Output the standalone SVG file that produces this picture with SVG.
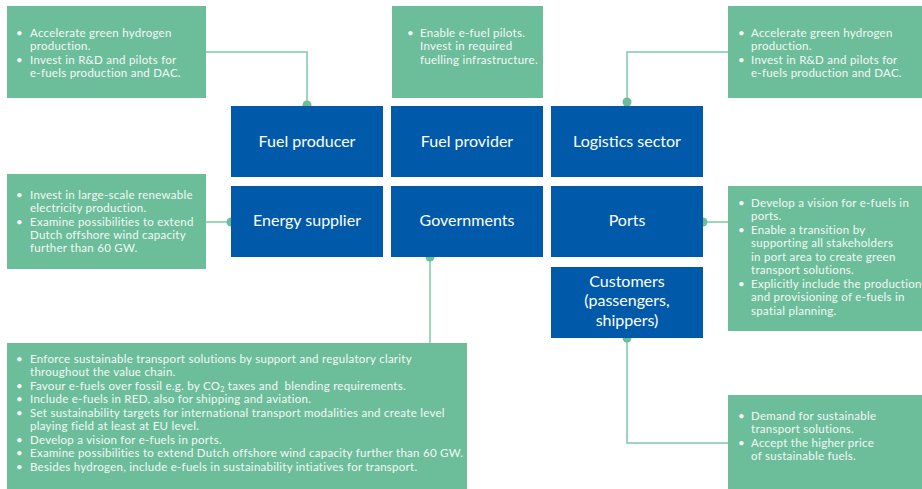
<svg xmlns="http://www.w3.org/2000/svg" width="922" height="489" viewBox="0 0 922 489">
<style>
.g{fill:#6cbe9a}
.b{fill:#005aa9}
.t{font-family:Lato,"Open Sans","Liberation Sans",sans-serif;font-size:11.5px;letter-spacing:0.27px;fill:#f4f8f6}
.l{font-family:Lato,"Open Sans","Liberation Sans",sans-serif;font-size:16px;fill:#ffffff;text-anchor:middle}
.c{fill:none;stroke:#7ccaa6;stroke-width:1.5}
.d{fill:#6cbe9a}
</style>
<rect width="922" height="489" fill="#ffffff"/>
<g id="connectors">
<path class="c" d="M206,52 H307 V106"/>
<path class="c" d="M728,52 H627 V102"/>
<path class="c" d="M206,222 H231"/>
<path class="c" d="M703,222 H728"/>
<path class="c" d="M430,257 V343"/>
<path class="c" d="M627,338 V443 H728"/>
<circle class="d" cx="307" cy="105" r="4.5"/>
<circle class="d" cx="627" cy="102" r="4.5"/>
<circle class="d" cx="231" cy="222" r="4.5"/>
<circle class="d" cx="703" cy="222" r="4.5"/>
<circle class="d" cx="430" cy="257" r="4.5"/>
<circle class="d" cx="627" cy="338" r="4.5"/>
</g>
<g id="fuel-producer"><rect class="b" x="231" y="106" width="152" height="71"/><text class="l" x="307" y="147">Fuel producer</text></g>
<g id="fuel-provider"><rect class="b" x="391" y="106" width="152" height="71"/><text class="l" x="467" y="147">Fuel provider</text></g>
<g id="logistics-sector"><rect class="b" x="551" y="106" width="152" height="71"/><text class="l" x="627" y="147">Logistics sector</text></g>
<g id="energy-supplier"><rect class="b" x="231" y="186" width="152" height="71"/><text class="l" x="307" y="226">Energy supplier</text></g>
<g id="governments"><rect class="b" x="391" y="186" width="152" height="71"/><text class="l" x="467" y="226">Governments</text></g>
<g id="ports"><rect class="b" x="551" y="186" width="152" height="71"/><text class="l" x="627" y="226">Ports</text></g>
<g id="customers"><rect class="b" x="551" y="267" width="152" height="71"/><text class="l" x="627" y="287">Customers</text><text class="l" x="627" y="306">(passengers,</text><text class="l" x="627" y="326">shippers)</text></g>
<g id="note-fuel-producer"><rect class="g" x="7" y="6" width="199" height="92"/>
<text class="t"><tspan x="16" y="37">•</tspan><tspan x="30" y="37">Accelerate green hydrogen</tspan><tspan x="30" y="50">production.</tspan><tspan x="16" y="64">•</tspan><tspan x="30" y="64">Invest in R&amp;D and pilots for</tspan><tspan x="30" y="77">e-fuels production and DAC.</tspan></text></g>
<g id="note-fuel-provider"><rect class="g" x="392" y="6" width="151" height="92"/>
<text class="t"><tspan x="407" y="37">•</tspan><tspan x="420" y="37">Enable e-fuel pilots.</tspan><tspan x="420" y="50">Invest in required</tspan><tspan x="420" y="64">fuelling infrastructure.</tspan></text></g>
<g id="note-logistics"><rect class="g" x="728" y="6" width="194" height="92"/>
<text class="t"><tspan x="738" y="37">•</tspan><tspan x="751" y="37">Accelerate green hydrogen</tspan><tspan x="751" y="50">production.</tspan><tspan x="738" y="64">•</tspan><tspan x="751" y="64">Invest in R&amp;D and pilots for</tspan><tspan x="751" y="77">e-fuels production and DAC.</tspan></text></g>
<g id="note-energy"><rect class="g" x="7" y="174" width="199" height="95"/>
<text class="t"><tspan x="16" y="199">•</tspan><tspan x="30" y="199">Invest in large-scale renewable</tspan><tspan x="30" y="212">electricity production.</tspan><tspan x="16" y="226">•</tspan><tspan x="30" y="226">Examine possibilities to extend</tspan><tspan x="30" y="239">Dutch offshore wind capacity</tspan><tspan x="30" y="252">further than 60 GW.</tspan></text></g>
<g id="note-ports"><rect class="g" x="728" y="186" width="194" height="145"/>
<text class="t"><tspan x="738" y="207">•</tspan><tspan x="751" y="207">Develop a vision for e-fuels in</tspan><tspan x="751" y="220">ports.</tspan><tspan x="738" y="234">•</tspan><tspan x="751" y="234">Enable a transition by</tspan><tspan x="751" y="247">supporting all stakeholders</tspan><tspan x="751" y="261">in port area to create green</tspan><tspan x="751" y="274">transport solutions.</tspan><tspan x="738" y="288">•</tspan><tspan x="751" y="288">Explicitly include the production</tspan><tspan x="751" y="301">and provisioning of e-fuels in</tspan><tspan x="751" y="315">spatial planning.</tspan></text></g>
<g id="note-governments"><rect class="g" x="7" y="343" width="460" height="146"/>
<text class="t" xml:space="preserve"><tspan x="16" y="363">•</tspan><tspan x="30" y="363">Enforce sustainable transport solutions by support and regulatory clarity</tspan><tspan x="30" y="376">throughout the value chain.</tspan><tspan x="16" y="390">•</tspan><tspan x="30" y="390">Favour e-fuels over fossil e.g. by CO<tspan font-size="7" baseline-shift="-2">2</tspan> taxes and  blending requirements.</tspan><tspan x="16" y="403">•</tspan><tspan x="30" y="403">Include e-fuels in RED, also for shipping and aviation.</tspan><tspan x="16" y="417">•</tspan><tspan x="30" y="417">Set sustainability targets for international transport modalities and create level</tspan><tspan x="30" y="430">playing field at least at EU level.</tspan><tspan x="16" y="444">•</tspan><tspan x="30" y="444">Develop a vision for e-fuels in ports.</tspan><tspan x="16" y="457">•</tspan><tspan x="30" y="457">Examine possibilities to extend Dutch offshore wind capacity further than 60 GW.</tspan><tspan x="16" y="471">•</tspan><tspan x="30" y="471">Besides hydrogen, include e-fuels in sustainability intiatives for transport.</tspan></text></g>
<g id="note-customers"><rect class="g" x="728" y="395" width="194" height="94"/>
<text class="t"><tspan x="738" y="420">•</tspan><tspan x="751" y="420">Demand for sustainable</tspan><tspan x="751" y="433">transport solutions.</tspan><tspan x="738" y="447">•</tspan><tspan x="751" y="447">Accept the higher price</tspan><tspan x="751" y="460">of sustainable fuels.</tspan></text></g>
</svg>
